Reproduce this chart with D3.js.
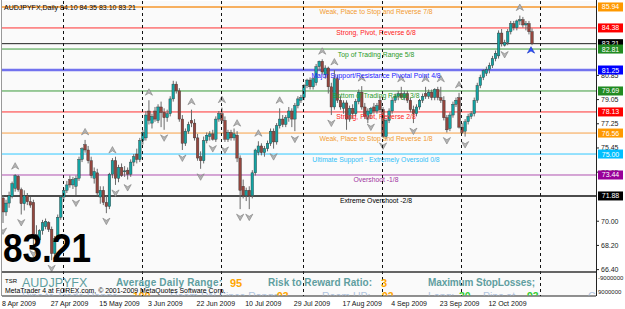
<!DOCTYPE html>
<html>
<head>
<meta charset="utf-8">
<title>AUDJPYFX Daily</title>
<script src="https://cdnjs.cloudflare.com/ajax/libs/d3/7.8.5/d3.min.js"></script>
<style>
  body { margin: 0; background: #fff; }
  svg { display: block; font-family: "Liberation Sans", Arial, sans-serif; }
</style>
</head>
<body>
<script>
// daily bars, 8 Apr 2009 .. 28 Oct 2009 (sunday bars included)
const opens = [71.73,70.69,71.35,71.85,72.45,73.35,72.35,71.30,71.90,71.45,71.40,69.00,68.60,69.30,69.60,69.90,69.40,67.60,68.70,70.30,
  71.80,72.30,73.10,72.70,72.60,73.20,74.60,75.70,75.30,74.50,73.20,73.60,71.80,72.30,71.40,71.10,73.50,74.50,73.20,74.00,
  73.70,73.80,73.50,74.40,75.00,74.60,76.00,76.20,78.20,77.30,78.20,77.50,78.50,78.10,77.70,78.00,79.10,80.20,79.70,77.60,
  75.80,76.70,77.50,77.30,76.20,74.80,74.50,76.00,76.30,76.50,76.10,77.60,78.00,77.50,76.10,76.60,76.20,76.40,74.70,72.60,
  71.90,72.30,71.90,73.60,75.10,75.60,75.10,75.40,75.80,76.70,75.90,77.10,77.60,77.20,77.70,78.20,77.60,78.60,79.00,79.20,
  80.10,80.50,80.00,80.30,81.50,81.90,80.90,81.40,80.00,78.50,80.60,79.00,78.40,78.80,77.60,78.40,78.00,78.90,79.60,78.50,
  77.60,78.00,78.50,78.20,79.00,78.30,76.30,77.50,78.20,79.00,79.30,79.50,79.20,79.50,79.00,78.30,78.00,78.50,79.00,79.50,
  79.30,79.60,79.20,79.80,79.20,79.00,77.70,76.90,77.90,78.70,79.20,77.00,76.70,77.40,77.80,78.00,79.00,80.10,80.70,81.00,
  81.30,81.60,82.10,82.30,84.00,83.10,83.30,84.10,84.70,84.40,84.90,85.00,84.60,84.70,84.10];
const highs = [71.95,71.60,72.20,72.95,73.50,73.45,72.50,72.30,72.10,71.80,71.60,69.70,69.40,70.10,70.20,70.00,69.60,68.90,70.50,71.90,
  72.50,73.00,73.40,73.30,73.40,74.80,75.50,76.05,75.60,74.80,74.00,73.90,72.60,72.60,71.90,73.60,74.70,74.80,74.20,74.30,
  74.10,74.00,74.60,75.00,75.40,76.20,76.80,78.20,79.00,78.00,78.50,78.70,78.90,78.40,78.30,79.30,80.45,80.40,79.90,77.90,
  76.90,77.40,78.30,77.60,76.50,75.20,76.30,76.60,76.70,76.80,77.80,78.20,78.45,77.80,76.80,76.80,76.90,76.70,74.90,73.10,
  72.50,72.60,73.80,75.40,75.95,75.80,75.60,76.00,76.90,76.90,77.30,78.40,77.90,77.90,78.50,78.40,78.80,79.30,79.40,80.20,
  80.60,80.70,80.70,81.70,81.95,82.05,81.60,81.50,80.30,81.25,80.90,79.30,79.00,79.00,78.60,78.70,79.10,79.80,80.05,78.80,
  78.40,78.50,78.80,78.80,79.30,78.50,77.60,78.40,79.20,79.50,79.70,80.00,79.70,79.70,79.20,78.60,78.70,79.10,79.50,80.00,
  79.80,79.80,79.90,80.00,80.00,79.30,77.90,78.10,78.90,79.20,79.55,77.30,77.60,78.00,78.20,79.20,80.30,80.90,81.30,81.50,
  81.80,82.30,82.70,84.20,84.30,83.50,84.30,84.90,84.90,85.00,85.30,85.20,84.90,84.90,84.35];
const lows = [69.87,70.40,71.00,71.70,72.20,72.20,70.50,70.80,71.20,71.00,68.20,68.60,68.50,69.00,69.40,69.20,67.10,67.40,68.50,70.10,
  71.50,72.10,72.50,72.40,71.95,73.00,74.40,75.10,74.30,73.20,72.80,71.90,71.30,71.20,70.60,70.90,73.20,72.70,72.90,73.30,
  73.30,73.10,73.30,74.10,74.30,74.40,75.70,76.00,77.20,76.90,77.40,77.30,77.00,76.80,77.40,77.80,78.90,79.50,77.40,75.30,
  75.60,76.50,77.00,76.00,74.50,73.90,74.30,75.80,76.00,76.00,75.90,77.40,77.30,75.90,75.90,76.00,76.00,74.40,70.90,71.70,
  71.50,70.90,71.70,73.40,74.90,74.90,74.80,75.20,75.60,75.40,75.70,76.90,77.00,77.00,77.40,77.00,76.70,78.40,78.80,79.00,
  79.90,79.80,79.80,80.10,81.20,80.90,80.60,79.50,77.90,78.30,78.80,78.30,78.00,76.80,77.40,77.60,77.80,78.70,78.30,77.60,
  77.30,77.60,78.00,78.00,78.10,76.20,76.10,77.30,78.00,78.80,79.00,79.10,79.00,78.80,78.10,77.30,77.80,78.30,78.80,79.10,
  79.10,79.00,79.00,79.00,78.80,77.50,76.60,76.70,77.70,78.50,76.90,76.50,76.30,77.20,77.60,77.80,78.80,79.90,80.50,80.80,
  81.00,81.40,81.90,82.10,83.00,83.00,83.10,83.90,84.20,84.20,84.60,84.40,84.20,83.90,83.10];
const closes = [70.69,71.35,71.90,72.80,73.40,72.35,71.30,71.90,71.45,71.20,69.00,68.90,69.30,69.90,70.00,69.40,67.60,68.70,70.30,71.80,
  72.30,72.70,72.70,73.10,73.20,74.60,75.40,75.30,74.50,73.40,73.70,72.10,72.30,71.40,71.10,73.50,74.50,73.20,74.00,73.40,
  73.75,73.50,74.40,74.80,74.60,76.00,76.60,77.90,77.50,77.80,77.60,78.50,78.10,77.70,78.00,79.10,80.20,79.70,77.60,75.80,
  76.70,77.20,77.30,76.20,74.70,74.50,76.00,76.40,76.50,76.10,77.60,78.00,77.50,76.10,76.60,76.20,76.50,74.70,72.30,71.90,
  72.30,71.90,73.60,75.30,75.60,75.10,75.40,75.80,76.70,75.90,77.10,77.60,77.20,77.70,78.20,77.60,78.60,79.10,79.20,80.10,
  80.50,80.00,80.60,81.50,81.90,81.10,81.40,80.00,78.50,80.60,79.00,78.50,78.80,77.60,78.40,78.00,78.90,79.60,78.50,77.80,
  78.20,78.40,78.20,78.60,78.30,76.30,77.50,78.20,79.00,79.30,79.50,79.20,79.50,79.00,78.30,78.00,78.50,79.00,79.30,79.30,
  79.60,79.20,79.80,79.20,79.00,77.70,76.80,77.90,78.70,79.00,77.00,76.60,77.40,77.80,78.00,79.00,80.10,80.70,81.20,81.30,
  81.60,82.10,82.50,84.00,83.20,83.30,84.10,84.70,84.40,84.90,85.00,84.60,84.70,84.10,83.21];

// fractal markers (bar indices)
const upFractals = [4, 27, 36, 48, 62, 72, 77, 84, 91, 105, 109, 118, 131, 139, 144, 150, 170];
const downFractals = [0, 6, 10, 16, 24, 34, 37, 41, 53, 59, 65, 69, 73, 78, 81, 89, 96, 108, 121, 125, 135, 146, 152, 165];
const signalBar = [174];

// Murrey math levels
const mmLevels = [85.94, 84.38, 82.81, 81.25, 79.69, 78.13, 76.56, 75.00, 73.44, 71.88];
const mmLabels = ["Weak, Place to Stop and Reverse  7/8", "Strong, Pivot, Reverse  6/8", "Top of Trading Range  5/8",
  "Major Support/Resistance Pivotal Point  4/8", "Bottom of Trading Range  3/8", "Strong, Pivot, Reverse  2/8",
  "Weak, Place to Stop and Reverse  1/8", "Ultimate Support - Extremely Oversold  0/8", "Overshoot  -1/8", "Extreme Overshoot  -2/8"];
const mmLineColors = ["#f7b060", "#ff3030", "#3a9a3a", "#7272ee", "#3a9a3a", "#ff3030", "#f7a045", "#30c8ff", "#b050b0", "#111"];
const mmTextColors = ["#f29a30", "#ff2020", "#2a9a2a", "#2020ff", "#2a9a2a", "#ff2020", "#f29a30", "#30c0f8", "#a030a0", "#000"];
const mmBoxColors = ["#ff9900", "#ff0000", "#228b22", "#0000ff", "#228b22", "#ff0000", "#ff9900", "#00bfff", "#990099", "#000"];
const mmWidths = [2, 1, 1, 2.5, 1, 1, 1, 1, 1, 1.5];
const lastPrice = 83.21;

// axis ticks that are not hidden under the level boxes
const priceTicks = [66.40, 68.20, 70.00, 73.65, 75.45, 77.25, 79.05, 80.85];
const dateTicks = ["8 Apr 2009", "27 Apr 2009", "15 May 2009", "3 Jun 2009", "22 Jun 2009", "10 Jul 2009",
  "29 Jul 2009", "17 Aug 2009", "4 Sep 2009", "23 Sep 2009", "12 Oct 2009"];

const W = 625, H = 309;
const plotL = 2, plotR = 596, plotT = 1, plotB = 271.5, subB = 296;

// trading calendar: every day except saturday, a few bars past the data for the grid
const dates = [];
for (let d = new Date(2009, 3, 8); dates.length < closes.length + 6; d = d3.timeDay.offset(d, 1)) {
  if (d.getDay() !== 6) dates.push(new Date(d));
}
const fmt = d3.timeFormat("%-d %b %Y");

const x = d3.scaleLinear().domain([0, closes.length - 1]).range([3, 532]);
const y = d3.scaleLinear().domain([66.26, 86.31]).range([plotB, 2]);

const svg = d3.select("body").append("svg").attr("width", W).attr("height", H);
svg.append("rect").attr("width", W).attr("height", H).attr("fill", "#fff");
svg.append("rect").attr("x", plotL).attr("y", plotT).attr("width", plotR - plotL).attr("height", subB - plotT).attr("fill", "#fafafa");

svg.append("defs").append("clipPath").attr("id", "plot")
  .append("rect").attr("x", plotL).attr("y", plotT).attr("width", plotR - plotL).attr("height", plotB - plotT);
svg.select("defs").append("clipPath").attr("id", "sub")
  .append("rect").attr("x", plotL).attr("y", plotB + 1).attr("width", plotR - plotL).attr("height", subB - plotB - 1.5);

const plot = svg.append("g").attr("clip-path", "url(#plot)");

// month grid (dashed verticals at first bar of each month)
const monthStarts = dates.map((d, i) => i).filter(i => i > 0 && dates[i].getMonth() !== dates[i - 1].getMonth());
svg.append("g").selectAll("line").data(monthStarts).join("line")
  .attr("x1", i => Math.round(x(i)) - 0.5).attr("x2", i => Math.round(x(i)) - 0.5)
  .attr("y1", plotT).attr("y2", subB)
  .attr("stroke", "#111").attr("stroke-width", 1).attr("stroke-dasharray", "3,3");

// murrey lines
plot.append("g").selectAll("line").data(mmLevels).join("line")
  .attr("x1", plotL).attr("x2", plotR)
  .attr("y1", d => y(d)).attr("y2", d => y(d))
  .attr("stroke", (d, i) => mmLineColors[i]).attr("stroke-width", (d, i) => mmWidths[i]);

plot.append("line").attr("x1", plotL).attr("x2", plotR)
  .attr("y1", y(lastPrice)).attr("y2", y(lastPrice)).attr("stroke", "#222").attr("stroke-width", 1);

// candles
const bars = plot.append("g").selectAll("g").data(closes.map((c, i) => i)).join("g");
bars.append("line")
  .attr("x1", i => x(i)).attr("x2", i => x(i))
  .attr("y1", i => y(highs[i])).attr("y2", i => y(lows[i]))
  .attr("stroke", "#6a6a6a").attr("stroke-width", 1);
bars.append("rect")
  .attr("x", i => x(i) - 1.3).attr("width", 2.6)
  .attr("y", i => y(Math.max(opens[i], closes[i])))
  .attr("height", i => Math.max(1, Math.abs(y(opens[i]) - y(closes[i]))))
  .attr("fill", i => closes[i] >= opens[i] ? "#13a3a3" : "#94463e")
  .attr("stroke", "#333").attr("stroke-width", 0.4);

// fractal arrows
const upPath = "M0,-3.5 L3.6,3 L0,0.8 L-3.6,3 Z";
const downPath = "M0,3.5 L3.6,-3 L0,-0.8 L-3.6,-3 Z";
plot.append("g").selectAll("path").data(upFractals).join("path")
  .attr("d", upPath).attr("transform", i => `translate(${x(i)},${y(highs[i]) - 8})`)
  .attr("fill", "#b4b4b4").attr("stroke", "#808080").attr("stroke-width", 0.6);
plot.append("g").selectAll("path").data(downFractals).join("path")
  .attr("d", downPath).attr("transform", i => `translate(${x(i)},${y(lows[i]) + 8})`)
  .attr("fill", "#b4b4b4").attr("stroke", "#808080").attr("stroke-width", 0.6);
plot.append("g").selectAll("path").data(signalBar).join("path")
  .attr("d", upPath).attr("transform", i => `translate(${x(i) - 1},${y(lows[i]) + 5})`)
  .attr("fill", "#3050ff").attr("stroke", "#1030c0").attr("stroke-width", 0.6);

// murrey texts
plot.append("g").selectAll("text").data(mmLevels).join("text")
  .attr("x", 376).attr("y", d => y(d) + 7.5)
  .attr("text-anchor", "middle").attr("font-size", 6.8)
  .attr("fill", (d, i) => mmTextColors[i])
  .text((d, i) => mmLabels[i]);

// title and big price
svg.append("text").attr("x", 4).attr("y", 10).attr("font-size", 7).attr("fill", "#000")
  .text(`AUDJPYFX,Daily  ${d3.format(".2f")(opens[opens.length - 1])} ${d3.format(".2f")(highs[highs.length - 1])} ${d3.format(".2f")(lows[lows.length - 1])} ${d3.format(".2f")(closes[closes.length - 1])}`);
svg.append("text").attr("x", 3).attr("y", 262).attr("font-size", 40).attr("font-weight", "bold")
  .attr("textLength", 88).attr("lengthAdjust", "spacingAndGlyphs").attr("fill", "#000")
  .text(d3.format(".2f")(lastPrice));

// frame and separators
svg.append("line").attr("x1", plotL).attr("x2", plotR).attr("y1", plotB + 0.5).attr("y2", plotB + 0.5)
  .attr("stroke", "#333").attr("stroke-width", 1.6);
svg.append("line").attr("x1", plotL).attr("x2", plotR).attr("y1", subB).attr("y2", subB)
  .attr("stroke", "#222").attr("stroke-width", 1);
svg.append("line").attr("x1", plotR + 0.5).attr("x2", plotR + 0.5).attr("y1", 0).attr("y2", subB)
  .attr("stroke", "#222");
svg.append("line").attr("x1", plotL - 0.5).attr("x2", plotL - 0.5).attr("y1", 0).attr("y2", subB)
  .attr("stroke", "#999");

// indicator window texts
const sub = svg.append("g").attr("clip-path", "url(#sub)");
const cb = "#5f9ea0", org = "#ffa500", lt = "#b0c4de", grn = "#32cd32";
sub.append("text").attr("x", 5).attr("y", 283).attr("font-size", 6).attr("fill", "#000").text("TSR");
sub.append("text").attr("x", 22).attr("y", 287).attr("font-size", 12.5).attr("fill", cb).text("AUDJPYFX");
sub.append("text").attr("x", 116).attr("y", 286).attr("font-size", 10).attr("font-weight", "bold")
  .attr("textLength", 106).attr("fill", cb).text("Average Daily Range:");
sub.append("text").attr("x", 230).attr("y", 287).attr("font-size", 11).attr("font-weight", "bold").attr("fill", org).text("95");
sub.append("text").attr("x", 268).attr("y", 286).attr("font-size", 10).attr("font-weight", "bold")
  .attr("textLength", 104).attr("fill", cb).text("Risk to Reward Ratio:");
sub.append("text").attr("x", 381).attr("y", 287).attr("font-size", 11).attr("font-weight", "bold").attr("fill", org).text("3");
sub.append("text").attr("x", 428).attr("y", 286).attr("font-size", 10).attr("font-weight", "bold")
  .attr("textLength", 107).attr("fill", cb).text("Maximum StopLosses;");
// second row, mostly cut off by the window edge
const row2 = [
  {x: 22, t: "Pips to Trade Range", c: lt, w: "normal"}, {x: 133, t: "109", c: org, w: "bold"},
  {x: 170, t: "Room DN Since Range", c: lt, w: "normal"}, {x: 277, t: "93", c: org, w: "bold"},
  {x: 322, t: "Room UP:", c: lt, w: "normal"}, {x: 382, t: "92", c: org, w: "bold"},
  {x: 428, t: "Long:", c: lt, w: "normal"}, {x: 459, t: "30", c: grn, w: "bold"},
  {x: 483, t: "Pips at", c: lt, w: "normal"}, {x: 527, t: "93", c: grn, w: "bold"},
  {x: 588, t: "Ca", c: lt, w: "normal"}];
sub.append("g").selectAll("text").data(row2).join("text")
  .attr("x", d => d.x).attr("y", 299.5).attr("font-size", 10.5).attr("font-weight", d => d.w)
  .attr("fill", d => d.c).text(d => d.t);
sub.append("text").attr("x", 5).attr("y", 293).attr("font-size", 6.9).attr("fill", "#000")
  .text("MetaTrader 4 at FOREX.com, © 2001-2009 MetaQuotes Software Corp.");

// price axis
const ax = svg.append("g");
ax.selectAll("line.tk").data(priceTicks).join("line").attr("class", "tk")
  .attr("x1", plotR).attr("x2", plotR + 3).attr("y1", d => y(d)).attr("y2", d => y(d)).attr("stroke", "#222");
ax.selectAll("text.tk").data(priceTicks).join("text").attr("class", "tk")
  .attr("x", plotR + 5).attr("y", d => y(d) + 2.5).attr("font-size", 7).attr("fill", "#222")
  .text(d => d3.format(".2f")(d));
const boxes = mmLevels.map((v, i) => ({v, c: mmBoxColors[i]}));
boxes.splice(2, 0, {v: lastPrice, c: "#000"});
const bx = ax.selectAll("g.box").data(boxes).join("g").attr("class", "box")
  .attr("transform", d => `translate(${plotR + 2},${y(d.v)})`);
bx.append("rect").attr("x", 0).attr("y", -4.5).attr("width", 25).attr("height", 9).attr("fill", d => d.c);
bx.append("text").attr("x", 12.5).attr("y", 2.5).attr("text-anchor", "middle").attr("font-size", 7)
  .attr("fill", "#fff").text(d => d3.format(".2f")(d.v));
ax.append("text").attr("x", plotR + 2).attr("y", 280).attr("font-size", 6).attr("fill", "#222").text("-9000000");
ax.append("text").attr("x", plotR + 2).attr("y", 294).attr("font-size", 6).attr("fill", "#222").text("9000000");

// date axis
const tickIdx = dateTicks.map(t => dates.findIndex(d => fmt(d) === t));
svg.append("g").selectAll("text").data(tickIdx).join("text")
  .attr("x", i => x(i) - 1).attr("y", 306).attr("font-size", 7).attr("fill", "#111")
  .text((i, k) => dateTicks[k]);
</script>
</body>
</html>
